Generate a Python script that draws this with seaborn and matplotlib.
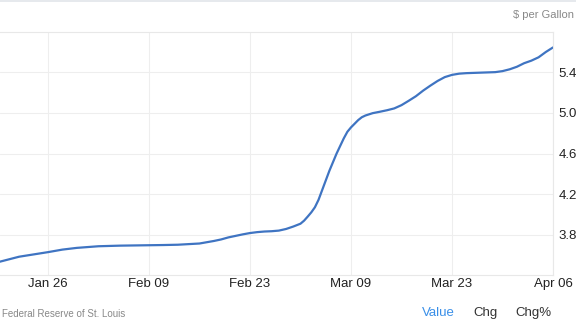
import matplotlib
matplotlib.use("Agg")
import matplotlib.pyplot as plt
from matplotlib.lines import Line2D
import seaborn as sns
import pandas as pd

# ---- data ----
dates = ["2022-01-19", "2022-01-22", "2022-01-26", "2022-01-28", "2022-01-30",
         "2022-02-02", "2022-02-05", "2022-02-09", "2022-02-11", "2022-02-13",
         "2022-02-16", "2022-02-18", "2022-02-19", "2022-02-20", "2022-02-21",
         "2022-02-22", "2022-02-23", "2022-02-24", "2022-02-25", "2022-02-26",
         "2022-02-27", "2022-02-28", "2022-03-01", "2022-03-02", "2022-03-02 12:00",
         "2022-03-03", "2022-03-03 12:00", "2022-03-04", "2022-03-04 12:00", "2022-03-05",
         "2022-03-06", "2022-03-07", "2022-03-08", "2022-03-08 12:00", "2022-03-09",
         "2022-03-09 12:00", "2022-03-10", "2022-03-10 12:00", "2022-03-11", "2022-03-12",
         "2022-03-13", "2022-03-14", "2022-03-15", "2022-03-16", "2022-03-17",
         "2022-03-18", "2022-03-19", "2022-03-20", "2022-03-21", "2022-03-22",
         "2022-03-23", "2022-03-24", "2022-03-25", "2022-03-27", "2022-03-29",
         "2022-03-30", "2022-03-31", "2022-04-01", "2022-04-02", "2022-04-03",
         "2022-04-04", "2022-04-05", "2022-04-06"]
values = [3.53, 3.585, 3.63, 3.655, 3.672,
          3.688, 3.694, 3.698, 3.700, 3.703,
          3.715, 3.74, 3.755, 3.775, 3.79,
          3.805, 3.818, 3.827, 3.833, 3.836,
          3.842, 3.858, 3.882, 3.91, 3.94,
          3.98, 4.022, 4.072, 4.145, 4.24,
          4.43, 4.60, 4.75, 4.815, 4.858,
          4.894, 4.93, 4.958, 4.975, 4.998,
          5.012, 5.027, 5.045, 5.077, 5.12,
          5.165, 5.22, 5.269, 5.315, 5.353,
          5.375, 5.387, 5.392, 5.397, 5.402,
          5.412, 5.43, 5.455, 5.49, 5.515,
          5.548, 5.60, 5.645]
x_ticks = ["2022-01-26", "2022-02-09", "2022-02-23", "2022-03-09", "2022-03-23", "2022-04-06"]
x_tick_labels = ["Jan 26", "Feb 09", "Feb 23", "Mar 09", "Mar 23", "Apr 06"]
y_ticks = [3.8, 4.2, 4.6, 5.0, 5.4]
y_tick_labels = ["3.8", "4.2", "4.6", "5.0", "5.4"]
unit_label = "$ per Gallon"
source_label = "Federal Reserve of St. Louis"
tabs = ["Value", "Chg", "Chg%"]

df = pd.DataFrame({"date": pd.to_datetime(dates, format="mixed"), "value": values})

sns.set_style("white")
plt.rcParams["font.family"] = ["Liberation Sans", "DejaVu Sans"]

fig = plt.figure(figsize=(5.76, 3.21), dpi=100)
ax = fig.add_axes([0.0, 1 - 275 / 321, 553 / 576, (275 - 31.7) / 321])

line_kws = dict(solid_joinstyle="round", solid_capstyle="round")
sns.lineplot(data=df, x="date", y="value", ax=ax, color="#3f74c2",
             linewidth=1.6, **line_kws)

ax.set_xlim(pd.Timestamp("2022-01-19 08:24"), pd.Timestamp("2022-04-06"))
ax.set_ylim(3.405, 5.8)

ax.set_xticks(pd.to_datetime(x_ticks))
ax.set_xticklabels(x_tick_labels)
ax.set_yticks(y_ticks)
ax.set_yticklabels(y_tick_labels)
ax.yaxis.tick_right()
ax.tick_params(axis="x", length=0, pad=2.5, labelsize=9.5, labelcolor="#222222")
ax.tick_params(axis="y", length=0, pad=3.8, labelsize=9.5, labelcolor="#222222")
ax.set_xlabel("")
ax.set_ylabel("")

ax.grid(True, color="#eeeeee", linewidth=0.8)
ax.set_axisbelow(True)
ax.spines["left"].set_visible(False)
for side in ["top", "right", "bottom"]:
    ax.spines[side].set_color("#e8e8e8")
    ax.spines[side].set_linewidth(0.8)

# top border line of the widget
fig.add_artist(Line2D([0, 1], [0.998, 0.998], color="#e2e5ea", linewidth=1.2))

fig.text(574 / 576, 1 - 15 / 321, unit_label, ha="right", va="center",
         fontsize=8.0, color="#888888")
fig.text(2.5 / 576, 1 - 314 / 321, source_label, ha="left", va="center",
         fontsize=7.0, color="#888888")
fig.text(438.5 / 576, 1 - 313 / 321, tabs[0], ha="center", va="center",
         fontsize=9.5, color="#3a8fe8")
fig.text(485.5 / 576, 1 - 313 / 321, tabs[1], ha="center", va="center",
         fontsize=9.5, color="#333333")
fig.text(533.5 / 576, 1 - 313 / 321, tabs[2], ha="center", va="center",
         fontsize=9.5, color="#333333")

fig.savefig("out.png", dpi=100)
